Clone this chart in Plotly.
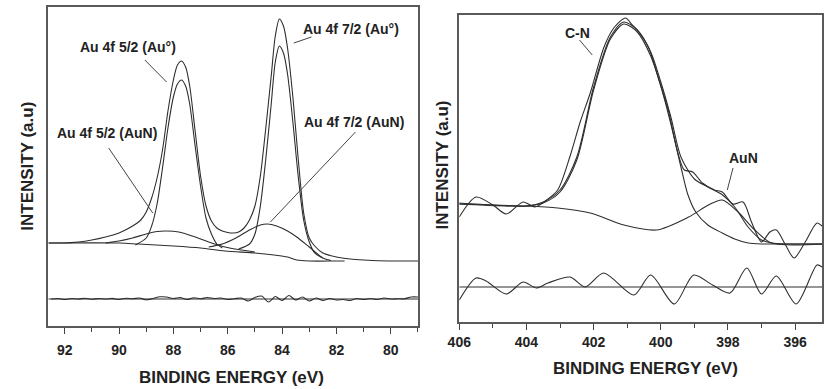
import plotly.graph_objects as go

# ---------------- Left panel: Au 4f ----------------
au_env_x = [92.6, 92.0, 91.5, 91.0, 90.5, 90.0, 89.5, 89.2, 89.0, 88.8, 88.6, 88.4, 88.2, 88.0, 87.85, 87.7,
            87.55, 87.4, 87.2, 87.0, 86.8, 86.6, 86.4, 86.2, 86.0, 85.8, 85.6, 85.4, 85.2, 85.0, 84.8, 84.6,
            84.4, 84.25, 84.1, 83.95, 83.8, 83.6, 83.4, 83.2, 83.0, 82.8, 82.5, 82.0, 81.5, 81.0, 80.0, 79.0]
au_env_y = [83, 83, 84, 86, 89, 93, 100, 106, 114, 128, 148, 176, 215, 246, 261, 265,
            259, 240, 195, 150, 120, 105, 98, 95, 93.5, 93, 94, 98, 106, 120, 150, 198,
            250, 290, 307, 300, 278, 228, 165, 112, 88, 80, 73, 69, 67, 66, 65, 65]

au52_x = [89.4, 89.0, 88.8, 88.6, 88.4, 88.2, 88.0, 87.85, 87.7, 87.55, 87.4, 87.2, 87.0, 86.8, 86.6, 86.4, 86.2]
au52_y = [81, 88, 100, 122, 158, 198, 229, 242, 246, 240, 222, 180, 140, 108, 92, 82, 78]

au72_x = [85.6, 85.2, 85.0, 84.8, 84.6, 84.4, 84.25, 84.1, 83.95, 83.8, 83.6, 83.4, 83.2, 83.0, 82.8, 82.5]
au72_y = [77, 82, 92, 120, 167, 222, 264, 280, 273, 252, 203, 148, 105, 84, 73, 68]

auN52_x = [90.5, 90.0, 89.5, 89.0, 88.6, 88.25, 87.8, 87.3, 86.7, 86.1, 85.5, 85.0]
auN52_y = [83, 85, 88, 92, 94.5, 95, 94, 90, 84, 79, 76, 74]

auN72_x = [86.7, 86.2, 85.7, 85.2, 84.8, 84.54, 84.2, 83.8, 83.46, 83.0, 82.5, 82.2]
auN72_y = [79, 82, 88, 96, 101, 102, 100, 95, 89, 79, 68, 65.5]

au_bg_x = [92.6, 90.0, 89.3, 88.0, 87.0, 86.1, 85.0, 84.3, 83.8, 83.46, 83.0, 82.0, 81.7]
au_bg_y = [83, 83, 82, 80, 78, 75, 73, 71, 69, 66, 65, 65, 65]

au_res_x = [92.5, 92.25, 92.0, 91.75, 91.5, 91.25, 91.0, 90.75, 90.5, 90.25, 90.0, 89.75, 89.5, 89.25,
            89.0, 88.75, 88.5, 88.25, 88.0, 87.75, 87.5, 87.25, 87.0, 86.75, 86.5, 86.25, 86.0, 85.75,
            85.5, 85.25, 85.0, 84.75, 84.5, 84.25, 84.0, 83.75, 83.5, 83.25, 83.0, 82.75, 82.5, 82.25,
            82.0, 81.75, 81.5, 81.25, 81.0, 80.75, 80.5, 80.25, 80.0, 79.75, 79.5, 79.25, 79.0]
au_res_y = [27, 27.5, 26.5, 27.5, 27, 27.8, 26.7, 27.5, 27, 27.6, 26.5, 27.8, 27.2, 28,
            26.2, 27.5, 29.2, 29, 27.5, 28.5, 26.5, 28.2, 27.3, 28.5, 27.5, 28, 26.5, 27.3,
            28, 25, 28.5, 30, 24, 29.5, 25.5, 30.5, 26, 29, 25, 28, 25.5, 27.5,
            26, 26.5, 25.5, 27.5, 26.5, 27.5, 26.5, 28, 27, 27.3, 27.2, 29, 29]
au_res_line_x = [92.6, 79.0]
au_res_line_y = [27, 27]

# ---------------- Right panel: N 1s ----------------
n_data_x = [406.0, 405.5, 405.0, 404.6, 404.1, 403.75, 403.4, 403.07, 402.7, 402.4, 402.1, 401.69, 401.4,
            401.05, 400.85, 400.65, 400.37, 400.08, 399.78, 399.49, 399.3, 399.05, 398.76, 398.4, 398.17,
            397.85, 397.55, 397.3, 397.0, 396.75, 396.56, 396.3, 396.03, 395.7, 395.35, 395.2]
n_data_y = [105, 125, 117, 108, 120, 115, 122, 132, 166, 200, 229, 275, 294,
            304, 297, 290, 275, 245, 212, 169, 152, 150, 139, 132, 130,
            118, 120, 100, 80, 90, 92, 78, 64, 80, 99, 96]

n_env_x = [406.0, 405.0, 404.0, 403.5, 403.0, 402.5, 402.0, 401.5, 401.1, 400.7, 400.3, 400.0, 399.7,
           399.4, 399.0, 398.6, 398.2, 397.8, 397.4, 397.0, 396.7, 395.2]
n_env_y = [118, 117, 116, 120, 132, 165, 235, 285, 300, 292, 270, 240, 205,
           165, 143, 135, 128, 115, 95, 82, 79, 78]

cn_x = [406.0, 404.0, 403.5, 403.0, 402.5, 402.0, 401.5, 401.1, 400.7, 400.3, 400.0, 399.7, 399.4,
        399.2, 398.96, 398.6, 398.17, 397.8, 397.4, 397.0, 396.6, 395.2]
cn_y = [118, 116, 119, 130, 162, 232, 283, 298, 290, 266, 236, 198, 155,
        128, 110, 97, 89, 83, 79, 78, 78, 78]

bg_auN_x = [406.0, 405.0, 404.0, 403.07, 402.1, 401.1, 400.13, 399.17, 398.58, 398.17, 397.7, 397.2, 396.7, 395.2]
bg_auN_y = [119, 117, 116, 114, 109, 97, 92, 105, 117, 122, 110, 92, 79, 78]

n_res_x = [406.0, 405.5, 405.2, 404.6, 404.1, 403.7, 403.36, 402.7, 402.25, 401.7, 400.8, 400.3, 399.6,
           399.02, 398.46, 397.94, 397.44, 397.0, 396.56, 395.97, 395.35, 395.2]
n_res_y = [22, 44, 41, 28, 40, 34, 39, 45, 35, 49, 27, 47, 18,
           47, 37, 29, 54, 28, 46, 18, 57, 55]
n_res_line_x = [406.0, 395.2]
n_res_line_y = [35, 35]

# tick labels
left_ticks = [92, 90, 88, 86, 84, 82, 80]
right_ticks = [406, 404, 402, 400, 398, 396]

LINE = dict(color="#2e2e2e", width=1.1, shape="spline", smoothing=0.8)
FLAT = dict(color="#2e2e2e", width=1.1)

fig = go.Figure()

def add(x, y, xa, ya, line):
    fig.add_trace(go.Scatter(x=x, y=y, mode="lines", line=line, xaxis=xa, yaxis=ya,
                             showlegend=False, hoverinfo="skip"))

for xs, ys in [(au_env_x, au_env_y), (au52_x, au52_y), (au72_x, au72_y), (auN52_x, auN52_y),
               (auN72_x, auN72_y), (au_bg_x, au_bg_y), (au_res_x, au_res_y)]:
    add(xs, ys, "x", "y", LINE)
add(au_res_line_x, au_res_line_y, "x", "y", FLAT)

for xs, ys in [(n_data_x, n_data_y), (n_env_x, n_env_y), (cn_x, cn_y), (bg_auN_x, bg_auN_y),
               (n_res_x, n_res_y)]:
    add(xs, ys, "x2", "y2", LINE)
add(n_res_line_x, n_res_line_y, "x2", "y2", FLAT)

FONT = "Liberation Sans, Arial, sans-serif"
AX = dict(showline=True, linecolor="#5a5a5a", linewidth=1.5, mirror=True, showgrid=False,
          zeroline=False, ticks="outside", ticklen=6, tickcolor="#444", tickwidth=1.2,
          tickfont=dict(family=FONT, size=14, color="#222", weight="bold"),
          minor=dict(ticks="outside", ticklen=4, tickcolor="#444", dtick=1, tickwidth=1.1))
YAX = dict(showline=True, linecolor="#5a5a5a", linewidth=1.5, mirror=True, showgrid=False,
           zeroline=False, showticklabels=False, ticks="")

fig.update_layout(
    width=824, height=389, autosize=False,
    margin=dict(l=0, r=0, t=0, b=0),
    paper_bgcolor="white", plot_bgcolor="white",
    xaxis=dict(AX, domain=[37/824, 413/824], range=[92.6, 79.0], tickvals=left_ticks,
               ticktext=[str(t) for t in left_ticks], anchor="y", ticklabelstandoff=4),
    yaxis=dict(YAX, domain=[(389-326)/389, (389-7)/389], range=[0, 319], anchor="x"),
    xaxis2=dict(AX, domain=[455/824, 1.0], range=[406.0, 395.2], tickvals=right_ticks,
                ticktext=[str(t) for t in right_ticks], anchor="y2", ticklabelstandoff=0),
    yaxis2=dict(YAX, domain=[(389-322)/389, (389-15)/389], range=[0, 307], anchor="x2"),
)

ann_font = dict(family=FONT, size=14, color="#222", weight="bold")
title_font = dict(family=FONT, size=17, color="#222", weight="bold")

annots = [
    ("Au 4f 5/2 (Au°)", 89.66, 279, "x", "y"),
    ("Au 4f 7/2 (Au°)", 81.48, 297, "x", "y"),
    ("Au 4f 5/2 (AuN)", 90.45, 193, "x", "y"),
    ("Au 4f 7/2 (AuN)", 81.37, 204, "x", "y"),
    ("C-N", 402.48, 289, "x2", "y2"),
    ("AuN", 397.55, 164, "x2", "y2"),
]
for t, x, y, xr, yr in annots:
    fig.add_annotation(text=t, x=x, y=y, xref=xr, yref=yr, showarrow=False, font=ann_font)

leaders = [
    (89.05, 266, 88.25, 244, "x", "y"),
    (82.92, 289, 83.57, 283, "x", "y"),
    (90.38, 178, 88.76, 113, "x", "y"),
    (81.30, 194, 84.43, 104, "x", "y"),
    (402.42, 282, 402.04, 267, "x2", "y2"),
    (397.85, 154, 398.02, 132, "x2", "y2"),
]
for x0, y0, x1, y1, xr, yr in leaders:
    fig.add_shape(type="line", x0=x0, y0=y0, x1=x1, y1=y1, xref=xr, yref=yr,
                  line=dict(color="#444", width=1))

# axis titles
fig.add_annotation(text="BINDING ENERGY (eV)", x=223/824, y=1-377/389, xref="paper", yref="paper",
                   showarrow=False, font=title_font, xanchor="center", yanchor="middle")
fig.add_annotation(text="BINDING ENERGY (eV)", x=644/824, y=1-368/389, xref="paper", yref="paper",
                   showarrow=False, font=title_font, xanchor="center", yanchor="middle")
fig.add_annotation(text="INTENSITY (a.u)", x=15/824, y=1-166/389, xref="paper", yref="paper",
                   showarrow=False, font=title_font, textangle=-90, xanchor="center", yanchor="middle")
fig.add_annotation(text="INTENSITY (a.u)", x=437/824, y=1-165/389, xref="paper", yref="paper",
                   showarrow=False, font=title_font, textangle=-90, xanchor="center", yanchor="middle")

fig.write_html("out.html", config={"displayModeBar": False},
               post_script="document.body.style.margin='0';document.body.style.overflow='hidden';")
